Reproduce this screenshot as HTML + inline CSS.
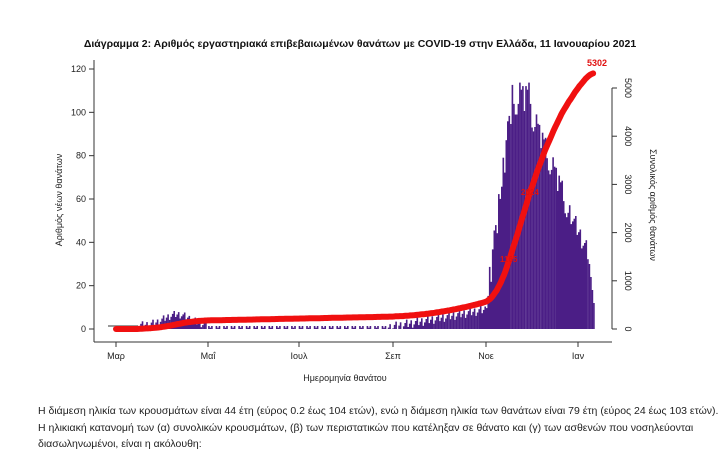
<!DOCTYPE html>
<html><head><meta charset="utf-8"><style>
body{margin:0;background:#fff;width:719px;height:454px;overflow:hidden;font-family:"Liberation Sans","DejaVu Sans",sans-serif}
svg{position:absolute;left:0;top:0}
.p{position:absolute;left:38px;font-size:10.5px;color:#222;line-height:17px}
</style></head><body>
<svg id="s" width="719" height="400" xmlns="http://www.w3.org/2000/svg" font-family="Liberation Sans, DejaVu Sans, sans-serif">
<text x="360" y="47" font-size="10.5" font-weight="bold" text-anchor="middle" fill="#111">Διάγραμμα 2: Αριθμός εργαστηριακά επιβεβαιωμένων θανάτων με COVID-19 στην Ελλάδα, 11 Ιανουαρίου 2021</text>
<g id="bars" fill="#4b1e86"></g>
<line x1="94" y1="60" x2="94" y2="342" stroke="#333" stroke-width="1"/>
<line x1="94" y1="342" x2="612" y2="342" stroke="#333" stroke-width="1"/>
<g id="ax" font-size="9" fill="#222" stroke="#333"></g>
<path id="cum" fill="none" stroke="#f01010" stroke-width="6" stroke-linecap="round" stroke-linejoin="round"/>
<text x="597" y="66" font-size="9" font-weight="bold" fill="#e01010" text-anchor="middle">5302</text>
<text x="521" y="195" font-size="8" font-weight="bold" fill="#e01010">2024</text>
<text x="500" y="262" font-size="8" font-weight="bold" fill="#e01010">1165</text>
<text x="345" y="381" font-size="9" fill="#222" text-anchor="middle">Ημερομηνία θανάτου</text>
<text transform="translate(62,200) rotate(-90)" font-size="9" fill="#222" text-anchor="middle">Αριθμός νέων θανάτων</text>
<text transform="translate(650,205) rotate(90)" font-size="9" fill="#222" text-anchor="middle">Συνολικός αριθμός θανάτων</text>
</svg>
<div class="p" style="top:403px">Η διάμεση ηλικία των κρουσμάτων είναι 44 έτη (εύρος 0.2 έως 104 ετών), ενώ η διάμεση ηλικία των θανάτων είναι 79 έτη (εύρος 24 έως 103 ετών).</div>
<div class="p" style="top:420px">Η ηλικιακή κατανομή των (α) συνολικών κρουσμάτων, (β) των περιστατικών που κατέληξαν σε θάνατο και (γ) των ασθενών που νοσηλεύονται</div>
<div class="p" style="top:436px">διασωληνωμένοι, είναι η ακόλουθη:</div>
<script>
var NS="http://www.w3.org/2000/svg";
function el(t,a,p){var e=document.createElementNS(NS,t);for(var k in a)e.setAttribute(k,a[k]);p.appendChild(e);return e;}
var ax=document.getElementById('ax');
var y0=329,yl=(329-69)/120,yr=(329-88)/5000;
[0,20,40,60,80,100,120].forEach(function(v){var y=y0-v*yl;el('line',{x1:89,x2:94,y1:y,y2:y},ax);var t=el('text',{x:86,y:y+3,'text-anchor':'end',stroke:'none'},ax);t.textContent=v;});
el('line',{x1:612,x2:612,y1:88,y2:329},ax);
[0,1000,2000,3000,4000,5000].forEach(function(v){var y=y0-v*yr;el('line',{x1:612,x2:617,y1:y,y2:y},ax);var t=el('text',{transform:'translate(625,'+y+') rotate(90)','text-anchor':'middle',stroke:'none'},ax);t.textContent=v;});
var lab=[["Μαρ",116],["Μαΐ",208],["Ιουλ",299],["Σεπ",393],["Νοε",486],["Ιαν",578]];
lab.forEach(function(l){el('line',{x1:l[1],x2:l[1],y1:342,y2:347},ax);var t=el('text',{x:l[1],y:359,'text-anchor':'middle',stroke:'none'},ax);t.textContent=l[0];});
var ppd=(578-116)/306, start=116;
function n(d,m){return ((d*37+d*d*7)%m)/m-0.5;}
function f(d){
 if(d<14)return 0;
 if(d<60)return 2+5*Math.exp(-Math.pow((d-40)/12,2))+4*n(d,7);
 if(d<180)return 0.8+2*n(d,5);
 if(d<245)return 1+(d-180)*0.13+5*n(d,7);
 if(d<263)return 12+(d-245)*5.6+14*n(d,9);
 if(d<275)return 108+18*n(d,11);
 if(d<300)return 100-(d-275)*1.8+14*n(d,11);
 if(d<313)return 55-(d-300)*1.6+10*n(d,7);
 return 30-(d-313)*6;
}
var bars=document.getElementById('bars'),cum=0,pts=[];
var vals=[];for(var d=0;d<=316;d++){var v=Math.max(0,f(d));vals.push(v);}
var tot=vals.reduce(function(a,b){return a+b},0),sc=5302/tot;
for(var d=0;d<=316;d++){var v=vals[d];var x=start+d*ppd;
 if(v>0)el('rect',{x:x.toFixed(1),y:(y0-v*yl).toFixed(1),width:(ppd+0.1).toFixed(2),height:(v*yl).toFixed(1)},bars);
 cum+=v*sc;pts.push(x.toFixed(1)+','+(y0-cum*yr).toFixed(1));}
el('rect',{x:108,y:y0-4,width:30,height:2,fill:'#999'},bars);
document.getElementById('cum').setAttribute('d','M'+pts.join(' L'));
</script>
</body></html>
